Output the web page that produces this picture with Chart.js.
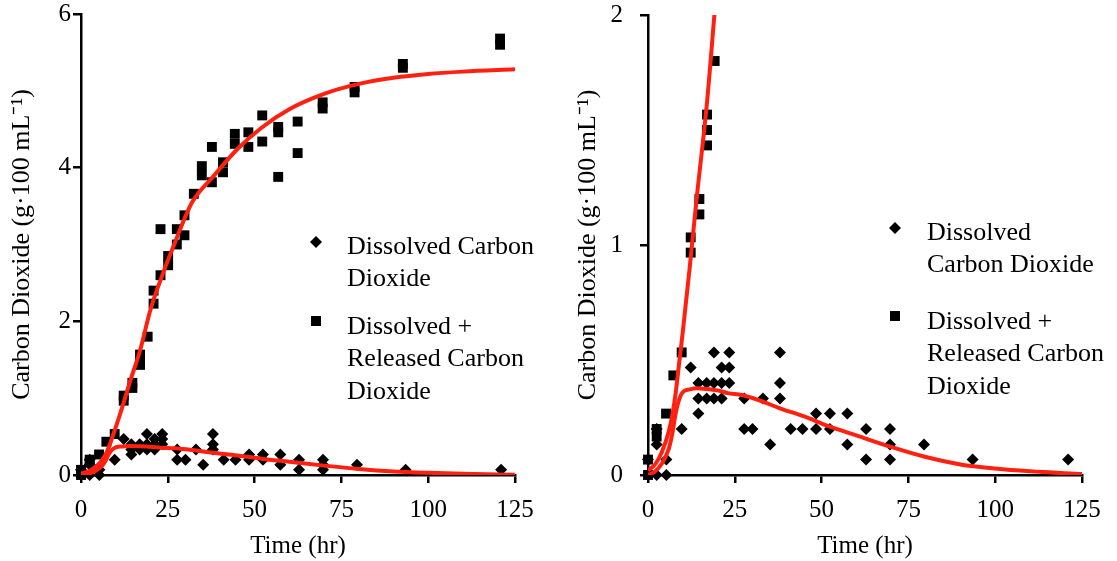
<!DOCTYPE html>
<html>
<head>
<meta charset="utf-8">
<script src="https://cdn.jsdelivr.net/npm/chart.js@4/dist/chart.umd.min.js"></script>
<style>
  html, body { margin: 0; padding: 0; background: #fff; }
  #wrap { position: relative; width: 1117px; height: 561px; overflow: hidden; }
  .panel { position: absolute; top: 0; }
</style>
</head>
<body>
<div id="wrap">
  <canvas id="leftPanel" class="panel" width="558" height="561" style="left:0"></canvas>
  <canvas id="rightPanel" class="panel" width="559" height="561" style="left:558px"></canvas>
</div>
<script>
// Sampling times (hr) and measured dissolved CO2 (g per 100 mL)
const dissolvedTime = [0, 0, 2.5, 2.5, 2.5, 5.3, 5.3, 9.7, 12.3, 14.5, 14.5, 14.5, 16.9, 16.9,
  19, 19, 19, 21.2, 21.2, 21.2, 23.4, 23.4, 23.4, 27.7, 27.7, 30.1, 33.1, 35.2, 38, 38, 38,
  41.1, 44.5, 48.4, 48.4, 52.4, 52.4, 57.4, 57.4, 62.8, 62.8, 69.7, 69.7, 69.7, 79.5, 93.5, 121];
const dissolvedCO2 = [0.067, 0, 0.2, 0.133, 0, 0.067, 0, 0.2, 0.467, 0.4, 0.333, 0.267, 0.4, 0.333,
  0.533, 0.4, 0.333, 0.467, 0.4, 0.333, 0.533, 0.467, 0.4, 0.333, 0.2, 0.2, 0.333, 0.133, 0.533, 0.4, 0.333,
  0.2, 0.2, 0.267, 0.2, 0.267, 0.2, 0.267, 0.133, 0.2, 0.067, 0.2, 0.133, 0.067, 0.133, 0.067, 0.067];

// Sampling times (hr) and dissolved + released CO2 (g per 100 mL)
const totalTime = [0, 0, 2.5, 2.5, 5.2, 7.3, 9.7, 12.3, 12.3, 14.8, 14.8, 17, 17, 17, 19.2,
  20.9, 20.9, 22.9, 22.9, 25.1, 25.1, 27.6, 27.6, 29.8, 29.8, 32.5, 34.8, 34.8, 37.7, 37.7,
  40.9, 40.9, 44.3, 44.3, 48.2, 48.2, 52.2, 52.2, 56.8, 56.8, 56.8, 62.4, 62.4, 69.6, 69.6,
  78.8, 78.8, 92.7, 92.7, 120.7, 120.7];
const totalCO2 = [0.067, 0, 0.2, 0.167, 0.267, 0.433, 0.533, 1.033, 0.967, 1.2, 1.133, 1.567, 1.5, 1.433, 1.8,
  2.4, 2.23, 3.2, 2.6, 2.85, 2.73, 3.2, 3.0, 3.38, 3.12, 3.66, 4.02, 3.9, 4.27, 3.81,
  4.07, 3.94, 4.44, 4.31, 4.46, 4.27, 4.68, 4.34, 4.53, 4.46, 3.88, 4.6, 4.19, 4.85, 4.77,
  5.05, 4.98, 5.35, 5.3, 5.68, 5.6];

// Model curves
const fitTime     = [0, 2, 4, 6, 7, 8, 9, 10, 12, 14, 17, 20, 23, 27, 32, 38, 45, 52, 60, 70, 80, 90, 100, 110, 125];
const dissolvedFit = [0, 0.015, 0.05, 0.115, 0.18, 0.27, 0.33, 0.36, 0.372, 0.377, 0.374, 0.368, 0.356, 0.348,
  0.325, 0.29, 0.255, 0.212, 0.172, 0.122, 0.078, 0.046, 0.028, 0.016, 0.004];
const totalFit = [0.02, 0.045, 0.1, 0.19, 0.26, 0.36, 0.49, 0.62, 0.9, 1.2, 1.62, 2.15, 2.55, 3.02,
  3.55, 3.88, 4.24, 4.52, 4.76, 4.96, 5.09, 5.17, 5.22, 5.25, 5.28];

const timeTicks = [0, 25, 50, 75, 100, 125];
const leftYTicks = [0, 2, 4, 6];
const rightYTicks = [0, 1, 2];

const seriesNames = ['Dissolved Carbon Dioxide', 'Dissolved + Released Carbon Dioxide'];
const xTitle = 'Time (hr)';
const yTitle = 'Carbon Dioxide (g\u00b7100 mL\u207b\u00b9)';

const FONT = '"Liberation Serif", "Times New Roman", serif';
const RED = '#ff200f';

const toXY = (xs, ys) => xs.map((x, i) => ({ x, y: ys[i] }));

function drawMarker(ctx, style, x, y) {
  ctx.beginPath();
  if (style === 'rectRot') {
    const r = 6;
    ctx.moveTo(x, y - r); ctx.lineTo(x + r, y); ctx.lineTo(x, y + r); ctx.lineTo(x - r, y);
  } else {
    const h = 5;
    ctx.rect(x - h, y - h, 2 * h, 2 * h);
  }
  ctx.closePath();
  ctx.fill();
}

// Legend drawn inside the plotting area with wrapped labels
const inPlotLegend = {
  id: 'inPlotLegend',
  afterDatasetsDraw(chart, args, opts) {
    if (!opts || !opts.items) return;
    const ctx = chart.ctx;
    ctx.save();
    ctx.fillStyle = '#000';
    ctx.font = opts.fontSize + 'px ' + FONT;
    ctx.textBaseline = 'alphabetic';
    ctx.textAlign = 'left';
    opts.items.forEach(item => {
      const ds = chart.data.datasets[item.datasetIndex];
      drawMarker(ctx, ds.pointStyle, opts.markerX, item.markerY);
      item.lines.forEach((line, i) => {
        ctx.fillText(line, opts.textX, item.baseline + i * opts.lineGap);
      });
    });
    ctx.restore();
  }
};

function axisCommon() {
  return {
    grid: { drawOnChartArea: false, drawTicks: true, tickLength: 8, color: '#000', lineWidth: 2.5 },
    border: { display: true, color: '#000', width: 2.5 }
  };
}

function makePanel(id, cfg) {
  const ctx = document.getElementById(id);
  return new Chart(ctx, {
    type: 'scatter',
    data: {
      datasets: [
        {
          label: seriesNames[0],
          data: toXY(dissolvedTime, dissolvedCO2),
          pointStyle: 'rectRot', pointRadius: 6, pointHoverRadius: 6,
          backgroundColor: '#000', borderColor: '#000', borderWidth: 0,
          showLine: false, clip: false, order: 2
        },
        {
          label: seriesNames[1],
          data: toXY(totalTime, totalCO2),
          pointStyle: 'rect', pointRadius: 7, pointHoverRadius: 7,
          backgroundColor: '#000', borderColor: '#000', borderWidth: 0,
          showLine: false, clip: false, order: 2
        },
        {
          label: 'fit-dissolved',
          data: toXY(fitTime, dissolvedFit),
          showLine: true, pointRadius: 0, borderColor: RED, borderWidth: 4,
          cubicInterpolationMode: 'monotone', fill: false, order: 1
        },
        {
          label: 'fit-total',
          data: toXY(fitTime, totalFit),
          showLine: true, pointRadius: 0, borderColor: RED, borderWidth: 4,
          cubicInterpolationMode: 'monotone', fill: false, order: 1
        }
      ]
    },
    options: {
      responsive: false,
      animation: false,
      devicePixelRatio: 1,
      layout: { padding: { left: 0, top: cfg.padTop, right: cfg.padRight, bottom: 0 } },
      plugins: {
        legend: { display: false },
        tooltip: { enabled: false },
        inPlotLegend: cfg.legend
      },
      scales: {
        x: Object.assign(axisCommon(), {
          type: 'linear', min: 0, max: 125,
          afterBuildTicks: s => { s.ticks = timeTicks.map(v => ({ value: v })); },
          ticks: { color: '#000', font: { family: FONT, size: 25 }, padding: 12, maxRotation: 0, autoSkip: false },
          title: { display: true, text: xTitle, color: '#000', font: { family: FONT, size: 25 }, padding: { top: 0, bottom: 0 } },
          afterFit: s => { s.height = 86; s.paddingLeft = 0; s.paddingRight = 0; }
        }),
        y: Object.assign(axisCommon(), {
          type: 'linear', min: 0, max: cfg.yMax,
          afterBuildTicks: s => { s.ticks = cfg.yTicks.map(v => ({ value: v })); },
          ticks: { color: '#000', font: { family: FONT, size: 25 }, padding: cfg.yTickPad, autoSkip: false },
          title: { display: true, text: yTitle, color: '#000', font: { family: FONT, size: 26 }, padding: { top: cfg.yTitlePad, bottom: 0 } },
          afterFit: s => { s.width = cfg.yWidth; s.paddingTop = 0; s.paddingBottom = 0; }
        })
      }
    },
    plugins: [inPlotLegend]
  });
}

makePanel('leftPanel', {
  yMax: 6, yTicks: leftYTicks, padTop: 14, padRight: 43, yWidth: 81, yTickPad: 2, yTitlePad: 7,
  legend: {
    fontSize: 26, markerX: 316, textX: 347, lineGap: 32.5,
    items: [
      { datasetIndex: 0, markerY: 242, baseline: 253.6, lines: ['Dissolved Carbon', 'Dioxide'] },
      { datasetIndex: 1, markerY: 321, baseline: 333.6, lines: ['Dissolved +', 'Released Carbon', 'Dioxide'] }
    ]
  }
});

makePanel('rightPanel', {
  yMax: 2, yTicks: rightYTicks, padTop: 15, padRight: 35, yWidth: 90, yTickPad: 17, yTitlePad: 15,
  legend: {
    fontSize: 26, markerX: 337, textX: 369, lineGap: 32.5,
    items: [
      { datasetIndex: 0, markerY: 228, baseline: 239.6, lines: ['Dissolved', 'Carbon Dioxide'] },
      { datasetIndex: 1, markerY: 316, baseline: 328.6, lines: ['Dissolved +', 'Released Carbon', 'Dioxide'] }
    ]
  }
});
</script>
</body>
</html>
